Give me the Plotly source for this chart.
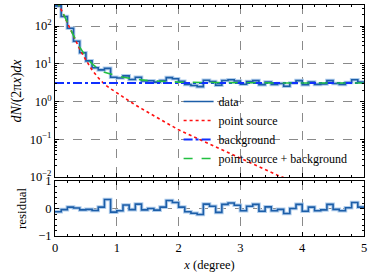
import plotly.graph_objects as go

# ---------------- data ----------------
bin_edges = [round(0.1 * i, 1) for i in range(51)]

data_counts = [345, 180, 87.7, 39.8, 19.7, 12.0, 7.9, 6.9, 7.6, 4.4,
               4.23, 4.81, 3.84, 4.41, 3.50, 3.56, 3.27, 3.58, 4.32, 4.03,
               3.42, 2.84, 2.66, 2.49, 3.68, 3.41, 2.71, 3.61, 3.77, 3.51,
               2.88, 3.37, 3.59, 2.81, 3.30, 2.86, 3.02, 2.55, 3.11, 3.58,
               2.80, 3.27, 2.86, 2.95, 3.58, 3.02, 2.86, 3.20, 3.79, 3.27]

residual = [-0.12, -0.04, 0.05, 0.02, -0.05, -0.03, -0.07, 0.05, 0.33, -0.13,
            -0.08, 0.13, -0.04, 0.16, -0.05, 0.0, -0.06, 0.05, 0.29, 0.22,
            0.05, -0.12, -0.17, -0.22, 0.16, 0.08, -0.14, 0.15, 0.20, 0.12,
            -0.08, 0.08, 0.15, -0.10, 0.06, -0.08, -0.03, -0.18, 0.0, 0.15,
            -0.10, 0.05, -0.08, -0.05, 0.15, -0.03, -0.08, 0.03, 0.22, 0.05]

model_x = [0.0, 0.1, 0.2, 0.3, 0.4, 0.5, 0.6, 0.7, 0.8, 0.9,
           1.0, 1.1, 1.2, 1.3, 1.4, 1.5, 1.6, 1.7, 1.8, 1.9,
           2.0, 2.2, 2.4, 2.6, 2.8, 3.0, 3.2, 3.4, 3.6, 3.8,
           4.0, 4.2, 4.4, 4.6, 4.8, 5.0]
point_source = [550, 275, 123, 52.5, 24.5, 12.6, 6.9, 4.27, 2.88, 2.19,
                1.70, 1.32, 1.02, 0.81, 0.65, 0.51, 0.42, 0.34, 0.275, 0.224,
                0.178, 0.126, 0.089, 0.063, 0.0437, 0.0302, 0.0214, 0.0151, 0.0112, 0.0083,
                0.0062, 0.0046, 0.0034, 0.0025, 0.0018, 0.0013]
background_level = 3.1
background = [background_level for _ in model_x]
total_model = [p + b for p, b in zip(point_source, background)]

y_tick_vals = [0.01, 0.1, 1, 10, 100]
y_tick_text = ["10<sup>−2</sup>", "10<sup>−1</sup>", "10<sup>0</sup>", "10<sup>1</sup>", "10<sup>2</sup>"]
y_minor_vals = [m * 10.0 ** e for e in (-2, -1, 0, 1, 2) for m in range(2, 10)]
res_tick_vals = [-1, 0, 1]
res_tick_text = ["−1", "0", "1"]
x_tick_vals = [0, 1, 2, 3, 4, 5]
x_tick_text = ["0", "1", "2", "3", "4", "5"]

legend_names = ["data", "point source", "background", "point source + background"]

# ---------------- styles ----------------
FONT = "Liberation Serif, Times New Roman, DejaVu Serif, serif"
DARK_BLUE = "#1c5ea8"
LIGHT_BLUE = "#b0cdec"
RED = "#ff1010"
BLUE = "#1030ff"
GREEN = "#22c040"

step_y = data_counts + [data_counts[-1]]
step_res = residual + [residual[-1]]

fig = go.Figure()

fig.add_trace(go.Scatter(x=bin_edges, y=step_y, mode="lines", line_shape="hv",
                         line=dict(color=LIGHT_BLUE, width=3.6), showlegend=False,
                         hoverinfo="skip", xaxis="x", yaxis="y"))
fig.add_trace(go.Scatter(x=bin_edges, y=step_y, mode="lines", line_shape="hv",
                         line=dict(color=DARK_BLUE, width=1.6), name=legend_names[0],
                         xaxis="x", yaxis="y"))
fig.add_trace(go.Scatter(x=model_x, y=point_source, mode="lines",
                         line=dict(color=RED, width=1.6, dash="dot"), name=legend_names[1],
                         xaxis="x", yaxis="y"))
fig.add_trace(go.Scatter(x=model_x, y=background, mode="lines",
                         line=dict(color=BLUE, width=2, dash="dashdot"), name=legend_names[2],
                         xaxis="x", yaxis="y"))
fig.add_trace(go.Scatter(x=model_x, y=total_model, mode="lines",
                         line=dict(color=GREEN, width=1.6, dash="dash"), name=legend_names[3],
                         xaxis="x", yaxis="y"))

fig.add_trace(go.Scatter(x=bin_edges, y=step_res, mode="lines", line_shape="hv",
                         line=dict(color=LIGHT_BLUE, width=3.6), showlegend=False,
                         hoverinfo="skip", xaxis="x2", yaxis="y2"))
fig.add_trace(go.Scatter(x=bin_edges, y=step_res, mode="lines", line_shape="hv",
                         line=dict(color=DARK_BLUE, width=1.6), showlegend=False,
                         xaxis="x2", yaxis="y2"))

axis_common = dict(showline=True, linecolor="black", linewidth=1, mirror="allticks",
                   ticks="inside", ticklen=4, tickwidth=1, tickcolor="black",
                   showgrid=True, gridcolor="#8a8a8a", griddash="dash", gridwidth=0.8,
                   zeroline=False, automargin=False,
                   tickfont=dict(family=FONT, size=12.5, color="black"))

fig.update_layout(
    width=373, height=276,
    margin=dict(l=55, r=9, t=5, b=40, autoexpand=False),
    paper_bgcolor="white", plot_bgcolor="white",
    font=dict(family=FONT, size=12, color="black"),
    xaxis=dict(domain=[0, 1], anchor="y", range=[0, 5], tickvals=x_tick_vals,
               showticklabels=False,
               minor=dict(ticks="inside", ticklen=2, tickcolor="black", tickmode="linear",
                          dtick=0.2, tick0=0, showgrid=False),
               **axis_common),
    yaxis=dict(domain=[0.2554, 1], anchor="x", type="log", range=[-2, 2.56],
               tickvals=y_tick_vals, ticktext=y_tick_text,
               minor=dict(ticks="inside", ticklen=2, tickcolor="black", tickmode="array",
                          tickvals=y_minor_vals, showgrid=False),
               title=dict(text="<i>dN</i>/(2π<i>x</i>)<i>dx</i>", standoff=4,
                          font=dict(family=FONT, size=14)),
               **axis_common),
    xaxis2=dict(domain=[0, 1], anchor="y2", range=[0, 5], tickvals=x_tick_vals,
                ticktext=x_tick_text, matches="x",
                minor=dict(ticks="inside", ticklen=2, tickcolor="black", tickmode="linear",
                           dtick=0.2, tick0=0, showgrid=False),
                title=dict(text="<i>x</i> (degree)", standoff=6, font=dict(family=FONT, size=12.5)),
                **axis_common),
    yaxis2=dict(domain=[0, 0.238], anchor="x2", range=[-1, 1],
                tickvals=res_tick_vals, ticktext=res_tick_text,
                minor=dict(ticks="inside", ticklen=2, tickcolor="black", tickmode="linear",
                           tick0=0, dtick=0.2, showgrid=False),
                title=dict(text="residual", standoff=8, font=dict(family=FONT, size=13)),
                **axis_common),
    legend=dict(x=0.40, y=0.645, xanchor="left", yanchor="top", bgcolor="rgba(0,0,0,0)",
                font=dict(family=FONT, size=12), tracegroupgap=0, itemwidth=30),
    showlegend=True,
)

fig.write_html("out.html", config={"displayModeBar": False},
               post_script="document.body.style.margin='0';document.body.style.padding='0';")
